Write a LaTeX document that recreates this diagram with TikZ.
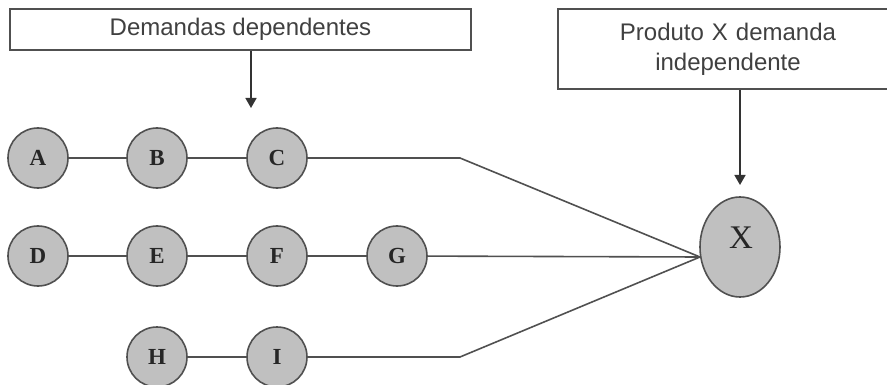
\documentclass[tikz,border=0pt]{standalone}
\usepackage{fontspec}
\setmainfont{Liberation Serif}
\newfontfamily\arialf{Liberation Sans}
\usetikzlibrary{arrows.meta,shapes.geometric}
\definecolor{edgegray}{HTML}{505050}
\definecolor{fillgray}{HTML}{C0C0C0}
\definecolor{txtgray}{HTML}{404040}
\begin{document}
\begin{tikzpicture}[x=1pt,y=-1pt,
  item/.style={circle,draw=edgegray,fill=fillgray,line width=1.6pt,minimum size=60pt,inner sep=0pt,font=\fontsize{23}{23}\selectfont\bfseries,text=black!85},
  link/.style={draw=edgegray,line width=1.6pt},
  label box/.style={draw=edgegray,line width=1.6pt,fill=white,font=\arialf\fontsize{24}{30}\selectfont,text=txtgray,align=center,inner sep=0pt},
  arr/.style={draw=black!80,line width=1.6pt,-{Triangle[length=10pt,width=11pt]}}]
\useasboundingbox (0,0) rectangle (887,385);
% boxes
\node[label box,minimum width=461pt,minimum height=41pt] (dep) at (240.5,29.5) {Demandas dependentes};
\node[label box,minimum width=340pt,minimum height=80pt,text width=300pt] (ind) at (728,49) {Produto X demanda\\independente};
% circles
\node[item] (A) at (38,158) {A};
\node[item] (B) at (157,158) {B};
\node[item] (C) at (277,158) {C};
\node[item] (D) at (38,256) {D};
\node[item] (E) at (157,256) {E};
\node[item] (F) at (277,256) {F};
\node[item] (G) at (397,256) {G};
\node[item] (H) at (157,357) {H};
\node[item] (I) at (277,357) {I};
\node[ellipse,draw=edgegray,fill=fillgray,line width=1.6pt,minimum width=80pt,minimum height=100pt,inner sep=0pt] (X) at (740,247) {};
\node[font=\fontsize{33}{33}\selectfont,text=black!85] (Xl) at (741,238) {X};
% coordinates
\coordinate (cC) at (460,158);
\coordinate (cI) at (460,357);
\coordinate (xin) at (700,257);
\coordinate (t1) at (251,108);
\coordinate (t2) at (740,185);
% links
\draw[link] (A) -- (B);
\draw[link] (B) -- (C);
\draw[link] (D) -- (E);
\draw[link] (E) -- (F);
\draw[link] (F) -- (G);
\draw[link] (H) -- (I);
\draw[link] (C) -- (cC) -- (xin);
\draw[link] (G) -- (xin);
\draw[link] (I) -- (cI) -- (xin);
% arrows
\draw[arr] (dep.south -| t1) -- (t1);
\draw[arr] (ind.south -| t2) -- (t2);
\end{tikzpicture}
\end{document}
